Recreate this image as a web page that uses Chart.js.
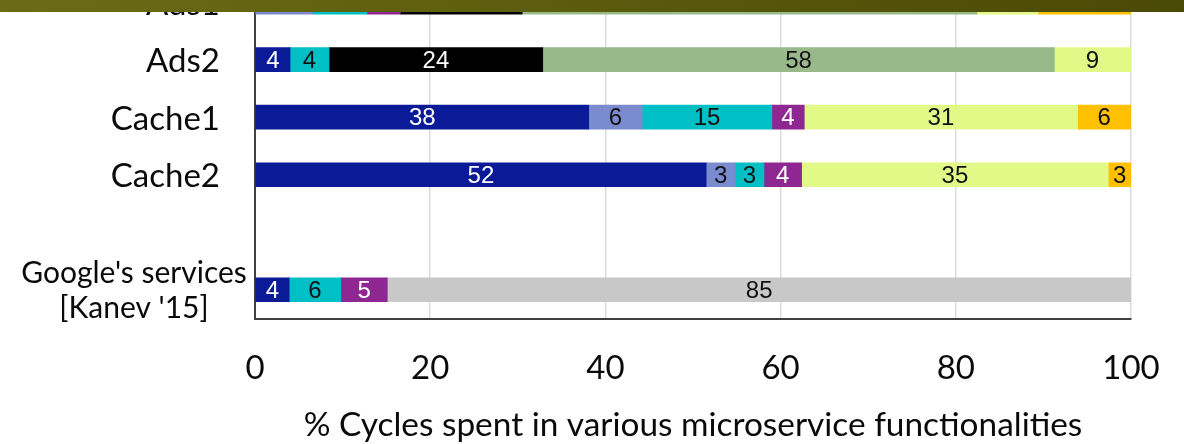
<!DOCTYPE html>
<html>
<head>
<meta charset="utf-8">
<script src="https://cdn.jsdelivr.net/npm/chart.js@4"></script>
<style>
  html, body { margin: 0; padding: 0; background: #fff; overflow: hidden; }
  body { width: 1184px; height: 444px; position: relative; }
  #wrap { position: absolute; left: 0; top: -40px; width: 1184px; height: 484px; }
  #band { position: absolute; left: 0; top: 0; width: 1184px; height: 12px;
          background: linear-gradient(90deg, #6b6b17 0%, #5e5f0f 40%, #54530a 70%, #4a4a07 100%); }
</style>
</head>
<body>
<div id="wrap"><canvas id="c" width="1184" height="484"></canvas></div>
<div id="band"></div>
<script>
// Categories (the blank one is the gap row in the original)
const categories = ['Ads1', 'Ads2', 'Cache1', 'Cache2', '', ["Google's services", "[Kanev '15]"]];
const xTicks = [0, 20, 40, 60, 80, 100];
const axisTitle = '% Cycles spent in various microservice functionalities';

// Series values (% cycles)
const seriesA = [null, 4.0, 38.1, 51.5, null, 3.9];   // dark blue
const seriesB = [6.6, null, 6.1, 3.3, null, null];    // periwinkle
const seriesC = [6.2, 4.45, 14.8, 3.3, null, 5.9];    // cyan
const seriesD = [3.8, null, 3.7, 4.3, null, 5.3];     // purple
const seriesE = [13.9, 24.4, null, null, null, null]; // black
const seriesF = [51.9, 58.4, null, null, null, null]; // sage green
const seriesG = [7.0, 8.7, 31.2, 35.0, null, null];   // light yellow
const seriesH = [10.6, null, 6.1, 2.6, null, null];   // orange
const seriesI = [null, null, null, null, null, 84.9]; // grey

const seriesList = [
  { name: 'A', data: seriesA, color: '#0b1a96', text: '#ffffff' },
  { name: 'B', data: seriesB, color: '#7b8bd0', text: '#111111' },
  { name: 'C', data: seriesC, color: '#00c0c6', text: '#111111' },
  { name: 'D', data: seriesD, color: '#8e2792', text: '#ffffff' },
  { name: 'E', data: seriesE, color: '#000000', text: '#ffffff' },
  { name: 'F', data: seriesF, color: '#98b98a', text: '#111111' },
  { name: 'G', data: seriesG, color: '#e3f987', text: '#111111' },
  { name: 'H', data: seriesH, color: '#ffc000', text: '#111111' },
  { name: 'I', data: seriesI, color: '#c8c8c8', text: '#111111' }
];

const FONT = 'Lato, "Open Sans", sans-serif';

const barLabels = {
  id: 'barLabels',
  afterDatasetsDraw(chart) {
    const ctx = chart.ctx;
    ctx.save();
    ctx.font = '24px "Liberation Sans", Arial, sans-serif';
    ctx.textAlign = 'center';
    ctx.textBaseline = 'middle';
    chart.data.datasets.forEach((ds, di) => {
      const meta = chart.getDatasetMeta(di);
      meta.data.forEach((el, i) => {
        const v = ds.data[i];
        if (v === null || v === undefined) return;
        const cx = (el.x + el.base) / 2;
        ctx.fillStyle = seriesList[di].text;
        ctx.fillText(String(Math.round(v)), cx, el.y + 1.5);
      });
    });
    ctx.restore();
  }
};

const catLabels = {
  id: 'catLabels',
  afterDraw(chart) {
    const ctx = chart.ctx;
    const y = chart.scales.y;
    ctx.save();
    ctx.fillStyle = '#0a0a0a';
    ctx.textBaseline = 'middle';
    categories.forEach((lab, i) => {
      const py = y.getPixelForValue(i);
      if (Array.isArray(lab)) {
        ctx.font = '30px ' + FONT;
        ctx.textAlign = 'center';
        const lh = 35;
        lab.forEach((line, k) => {
          ctx.fillText(line, 134, py + 1 + (k - (lab.length - 1) / 2) * lh);
        });
      } else if (lab) {
        ctx.font = '33px ' + FONT;
        ctx.textAlign = 'right';
        ctx.fillText(lab, 220, py + 2);
      }
    });
    ctx.restore();
  }
};

new Chart(document.getElementById('c'), {
  type: 'bar',
  data: {
    labels: categories,
    datasets: seriesList.map(s => ({
      label: s.name,
      data: s.data,
      backgroundColor: s.color,
      borderWidth: 0,
      barThickness: 24
    }))
  },
  options: {
    indexAxis: 'y',
    responsive: false,
    animation: false,
    devicePixelRatio: 1,
    layout: { padding: { top: 13.4, right: 53, left: 0, bottom: 0 } },
    plugins: { legend: { display: false }, tooltip: { enabled: false } },
    scales: {
      x: {
        stacked: true,
        min: 0, max: 100,
        afterBuildTicks(scale) { scale.ticks = xTicks.map(v => ({ value: v })); },
        afterFit(scale) { scale.height = 125.5; scale.paddingLeft = 0; scale.paddingRight = 0; },
        ticks: {
          font: { family: FONT, size: 33 },
          color: '#0a0a0a',
          padding: 30
        },
        grid: { color: '#dcdcdc', lineWidth: 1.5, drawTicks: false },
        border: { display: true, color: '#404040', width: 2 },
        title: {
          display: true,
          text: axisTitle,
          font: { family: FONT, size: 33.4, lineHeight: 1 },
          color: '#0a0a0a',
          padding: { top: 0, bottom: 2 }
        }
      },
      y: {
        stacked: true,
        afterFit(scale) { scale.width = 255; },
        ticks: { display: false },
        grid: { display: false },
        border: { display: true, color: '#404040', width: 2 }
      }
    }
  },
  plugins: [barLabels, catLabels]
});
</script>
</body>
</html>
